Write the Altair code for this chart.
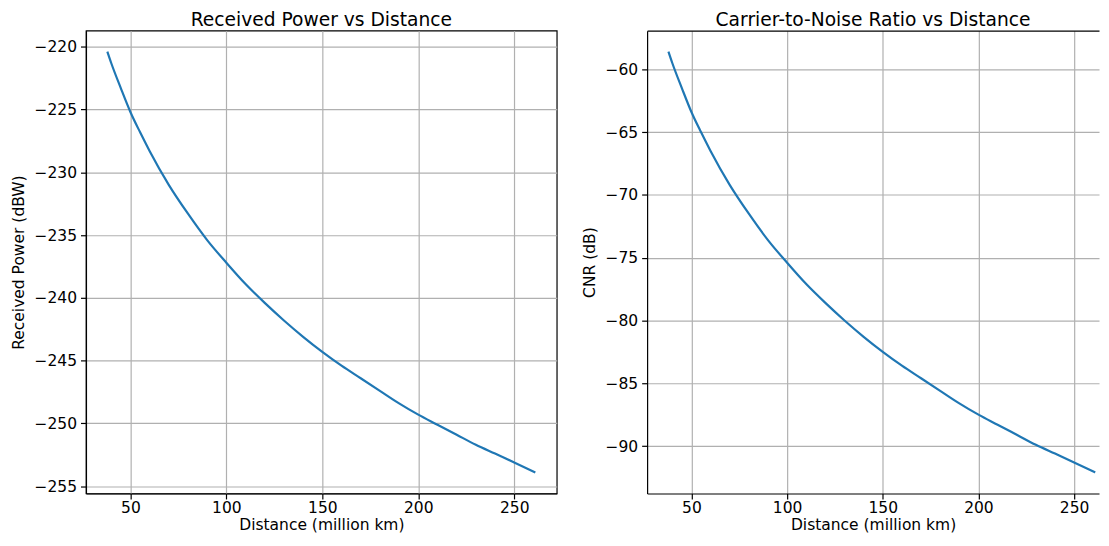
import altair as alt
import pandas as pd

# Values
distance = [38, 40, 45, 50, 55, 60, 70, 80, 90, 100, 110, 120, 130, 140, 150,
            160, 170, 180, 190, 200, 210, 220, 230, 240, 250, 261]
received_power = [-220.4, -221.3, -223.3, -225.2, -226.8, -228.3, -231.0, -233.3,
                  -235.4, -237.2, -238.9, -240.4, -241.8, -243.1, -244.3, -245.4,
                  -246.4, -247.4, -248.4, -249.3, -250.1, -250.9, -251.7, -252.4,
                  -253.1, -253.9]
cnr = [-58.6, -59.5, -61.5, -63.4, -65.0, -66.5, -69.2, -71.5, -73.6, -75.4,
       -77.1, -78.6, -80.0, -81.3, -82.5, -83.6, -84.6, -85.6, -86.6, -87.5,
       -88.3, -89.1, -89.9, -90.6, -91.3, -92.1]

x_ticks = [50, 100, 150, 200, 250]
power_ticks = [-220, -225, -230, -235, -240, -245, -250, -255]
cnr_ticks = [-60, -65, -70, -75, -80, -85, -90]

df = pd.DataFrame({"distance": distance, "power": received_power, "cnr": cnr})

FONT = "DejaVu Sans"
BLUE = "#1f77b4"
GRID = "#b0b0b0"
FS = 15.6


def x_axis():
    return alt.Axis(values=x_ticks, title="Distance (million km)", grid=True,
                    gridColor=GRID, gridWidth=1.2, domain=True, domainColor="black",
                    domainWidth=1.2, tickColor="black", tickWidth=1.2, tickSize=5.5,
                    labelFont=FONT, labelFontSize=FS, labelColor="black",
                    labelPadding=2, titleFont=FONT, titleFontSize=FS,
                    titleFontWeight="normal", titleColor="black", titlePadding=1)


def y_axis(ticks, title):
    return alt.Axis(values=ticks, title=title, grid=True, gridColor=GRID,
                    gridWidth=1.2, domain=True, domainColor="black", domainWidth=1.2,
                    tickColor="black", tickWidth=1.2, tickSize=5.5,
                    labelFont=FONT, labelFontSize=FS, labelColor="black",
                    labelPadding=4, titleFont=FONT, titleFontSize=FS,
                    titleFontWeight="normal", titleColor="black", titlePadding=8)


def title(text):
    return alt.TitleParams(text, font=FONT, fontSize=18.8, fontWeight="normal",
                           color="black", anchor="middle", offset=-14,
                           baseline="alphabetic")


left_x = alt.Scale(domain=[26.85, 272.15], nice=False, zero=False)
right_x = alt.Scale(domain=[26.85, 263.0], nice=False, zero=False)
power_y = alt.Scale(domain=[-255.575, -218.725], nice=False, zero=False)
cnr_y = alt.Scale(domain=[-93.775, -56.925], nice=False, zero=False)

left = alt.Chart(df).mark_line(color=BLUE, strokeWidth=2.2, interpolate="monotone").encode(
    x=alt.X("distance:Q", scale=left_x, axis=x_axis()),
    y=alt.Y("power:Q", scale=power_y, axis=y_axis(power_ticks, "Received Power (dBW)")),
).properties(
    width=474, height=466, title=title("Received Power vs Distance"),
    view=alt.ViewBackground(stroke="black", strokeWidth=1.2),
)

right_line = alt.Chart(df).mark_line(color=BLUE, strokeWidth=2.2, interpolate="monotone").encode(
    x=alt.X("distance:Q", scale=right_x, axis=x_axis()),
    y=alt.Y("cnr:Q", scale=cnr_y, axis=y_axis(cnr_ticks, "CNR (dB)")),
)
right_top = alt.Chart(df).mark_line(opacity=0).encode(
    x=alt.X("distance:Q", scale=right_x,
            axis=alt.Axis(orient="top", labels=False, ticks=False, grid=False,
                          domain=True, domainColor="black", domainWidth=1.2,
                          title=None)),
    y=alt.Y("cnr:Q", scale=cnr_y, axis=y_axis(cnr_ticks, "CNR (dB)")),
)
right = alt.layer(right_line, right_top).resolve_axis(x="independent").properties(
    width=455, height=466, title=title("Carrier-to-Noise Ratio vs Distance"),
    view=alt.ViewBackground(stroke="transparent"),
)

chart = alt.hconcat(left, right, spacing=24).properties(
    padding={"left": 2.5, "top": 0, "right": 0, "bottom": 0},
    background="white",
)

chart.save("out.html", embed_options={"renderer": "svg", "actions": False})
